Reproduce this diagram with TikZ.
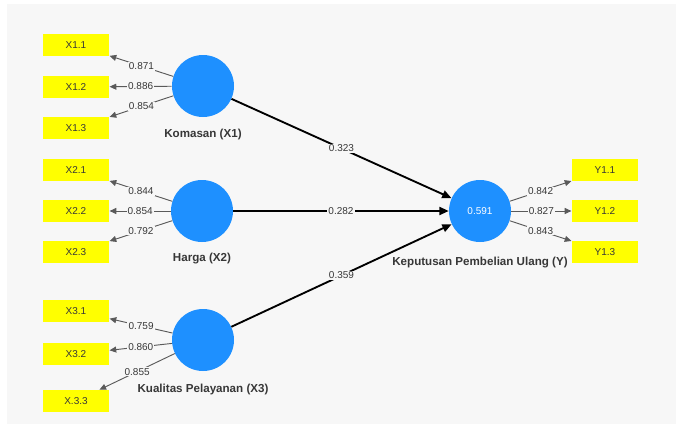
\documentclass[tikz,border=0pt]{standalone}
\usepackage{fontspec}
\setmainfont{Liberation Sans}
\usetikzlibrary{arrows.meta}
\definecolor{plsblue}{RGB}{30,144,255}
\definecolor{plsyellow}{RGB}{255,255,0}
\definecolor{panelgray}{RGB}{247,247,247}
\definecolor{labgray}{RGB}{55,55,55}
\definecolor{linegray}{RGB}{90,90,90}

\begin{document}
\begin{tikzpicture}[x=0.75pt, y=-0.75pt,
    ind/.style={fill=plsyellow, minimum width=50pt, minimum height=16.5pt, inner sep=0pt, text=labgray, font=\fontsize{7.5}{9}\selectfont},
    lv/.style={circle, fill=plsblue, minimum size=46.5pt, inner sep=0pt, text=white, font=\fontsize{7.5}{9}\selectfont},
    lvname/.style={text=labgray, font=\bfseries\fontsize{8.7}{10}\selectfont},
    coef/.style={fill=panelgray, inner sep=0.8pt, text=labgray, font=\fontsize{7.5}{9}\selectfont},
    outer/.style={-{Triangle[length=5pt, width=4.5pt]}, draw=linegray, line width=0.7pt},
    inner/.style={-{Triangle[length=7pt, width=6pt]}, draw=black, line width=1.4pt}]
    \useasboundingbox (0,0) rectangle (676,432);
    \fill[white] (0,0) rectangle (676,432);
    \fill[panelgray] (7,4) rectangle (676,424);

    \node[lv] (kms) at (203,86) {};
    \node[lv] (hrg) at (202,211) {};
    \node[lv] (klt) at (203,340) {};
    \node[lv] (kpu) at (480,211) {0.591};

    \node[lvname] (kmsname) at (203,135) {Komasan (X1)};
    \node[lvname] (hrgname) at (202,259) {Harga (X2)};
    \node[lvname] (kltname) at (203,389) {Kualitas Pelayanan (X3)};
    \node[lvname] (kpuname) at (480,263) {Keputusan Pembelian Ulang (Y)};

    \node[ind] (x11) at (76,45) {X1.1};
    \node[ind] (x12) at (76,87) {X1.2};
    \node[ind] (x13) at (76,128) {X1.3};
    \node[ind] (x21) at (76,170) {X2.1};
    \node[ind] (x22) at (76,211) {X2.2};
    \node[ind] (x23) at (76,252) {X2.3};
    \node[ind] (x31) at (76,311) {X3.1};
    \node[ind] (x32) at (76,354) {X3.2};
    \node[ind] (x33) at (76,401) {X.3.3};
    \node[ind] (y11) at (605,170) {Y1.1};
    \node[ind] (y12) at (605,211) {Y1.2};
    \node[ind] (y13) at (605,252) {Y1.3};

    \draw[outer] (kms) -- node[coef] {0.871} (x11);
    \draw[outer] (kms) -- node[coef] {0.886} (x12);
    \draw[outer] (kms) -- node[coef] {0.854} (x13);
    \draw[outer] (hrg) -- node[coef] {0.844} (x21);
    \draw[outer] (hrg) -- node[coef] {0.854} (x22);
    \draw[outer] (hrg) -- node[coef] {0.792} (x23);
    \draw[outer] (klt) -- node[coef] {0.759} (x31);
    \draw[outer] (klt) -- node[coef] {0.860} (x32);
    \draw[outer] (klt) -- node[coef] {0.855} (x33);
    \draw[outer] (kpu) -- node[coef] {0.842} (y11);
    \draw[outer] (kpu) -- node[coef] {0.827} (y12);
    \draw[outer] (kpu) -- node[coef] {0.843} (y13);

    \draw[inner] (kms) -- node[coef] {0.323} (kpu);
    \draw[inner] (hrg) -- node[coef] {0.282} (kpu);
    \draw[inner] (klt) -- node[coef] {0.359} (kpu);
\end{tikzpicture}
\end{document}
